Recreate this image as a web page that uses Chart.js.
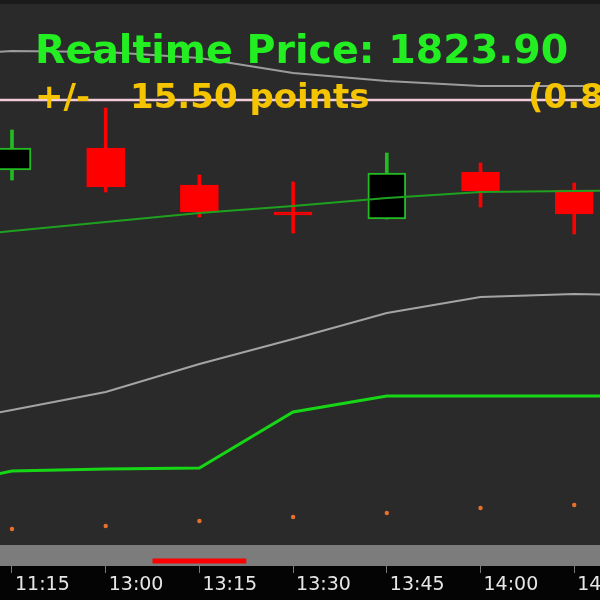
<!DOCTYPE html>
<html><head><meta charset="utf-8">
<script src="https://cdn.jsdelivr.net/npm/chart.js@4.4.1/dist/chart.umd.min.js"></script>
<style>html,body{margin:0;padding:0;background:#2a2a2a;overflow:hidden}#wrap{width:600px;height:600px}</style>
</head><body><div id="wrap"><canvas id="c" width="600" height="600"></canvas></div>
<script>
// ---- data ----
const timeLabels  = ['11:15','13:00','13:15','13:30','13:45','14:00','14:15'];
const candleOpen  = [1826.10,1827.20,1825.35,1823.85,1823.65,1826.00,1825.10];
const candleHigh  = [1828.10,1829.20,1825.85,1825.50,1826.95,1826.45,1825.45];
const candleLow   = [1825.60,1825.00,1823.75,1822.95,1823.65,1824.25,1822.90];
const candleClose = [1827.20,1825.25,1824.00,1823.85,1825.95,1825.05,1823.90];
// indicator lines, sampled at bar slots -1..7 (slots -1 and 7 lie just off-screen)
const lineSlots   = [-1,0,1,2,3,4,5,6,7];
const upperBand   = [1831.75,1832.05,1832.00,1831.70,1830.95,1830.55,1830.30,1830.30,1830.30];
const movingAvg   = [1822.60,1823.05,1823.50,1823.95,1824.30,1824.70,1825.00,1825.05,1825.10];
const lowerBand   = [1813.20,1814.10,1815.00,1816.40,1817.65,1818.95,1819.75,1819.90,1819.80];
const supportLine = [1810.10,1811.05,1811.15,1811.20,1814.00,1814.80,1814.80,1814.80,1814.80];
const sarDots     = [1808.15,1808.30,1808.55,1808.75,1808.95,1809.20,1809.35];
const referenceLevel  = 1829.60;
const activeSpanSlots = [1.5, 2.5];
const activeSpanLevel = 1806.55;
const realtimePrice   = 1823.90;
const priceChange     = 15.50;
const priceChangePct  = 0.85;
const yRange = [1806.30, 1834.60];
const xRange = [-0.128, 6.275];

// ---- build datasets ----
const slots = timeLabels.map((_, i) => i);
const isUp = slots.map(i => candleClose[i] > candleOpen[i]);
const UP = '#22bb22', DOWN = '#ff0000';

const wicks = slots.map(i => ({x: i, y: [candleLow[i], candleHigh[i]]}));
const bodies = slots.map(i => ({x: i, y: [candleOpen[i], candleClose[i]]}));
const pts = arr => lineSlots.map((s, k) => ({x: s, y: arr[k]}));

const backdrop = {
  id: 'backdrop',
  beforeDraw(chart) {
    const {ctx, chartArea: a, width, height} = chart;
    ctx.save();
    ctx.fillStyle = '#2a2a2a'; ctx.fillRect(0, 0, width, height);
    ctx.fillStyle = '#1b1b1b'; ctx.fillRect(0, 0, width, 4);
    ctx.fillStyle = '#7c7c7c'; ctx.fillRect(0, a.bottom - 21, width, 21);
    ctx.fillStyle = '#040404'; ctx.fillRect(0, a.bottom, width, height - a.bottom);
    ctx.restore();
  }
};
const headline = {
  id: 'headline',
  afterDatasetsDraw(chart) {
    const ctx = chart.ctx;
    ctx.save();
    ctx.textBaseline = 'alphabetic';
    ctx.textAlign = 'left';
    ctx.font = 'bold 39.5px "DejaVu Sans"';
    ctx.fillStyle = '#22ee22';
    ctx.fillText('Realtime Price: ' + realtimePrice.toFixed(2), 35, 63);
    ctx.font = 'bold 34px "DejaVu Sans"';
    ctx.fillStyle = '#f4c400';
    ctx.fillText('+/-', 35, 108);
    ctx.fillText(priceChange.toFixed(2) + ' points', 130, 108);
    ctx.fillText('(' + priceChangePct.toFixed(2) + '%)', 528, 108);
    ctx.restore();
  }
};

new Chart(document.getElementById('c'), {
  type: 'bar',
  data: {
    datasets: [
      {type: 'line', data: pts(upperBand), borderColor: '#9c9c9c', borderWidth: 2, pointRadius: 0, order: 6},
      {type: 'line', data: [{x: lineSlots[0], y: referenceLevel}, {x: lineSlots[lineSlots.length-1], y: referenceLevel}],
        borderColor: '#f2ccd6', borderWidth: 2.5, pointRadius: 0, order: 6},
      {type: 'line', data: pts(lowerBand), borderColor: '#a4a4a4', borderWidth: 2, pointRadius: 0, order: 6},
      {type: 'line', data: pts(supportLine), borderColor: '#16d616', borderWidth: 3, pointRadius: 0, order: 6},
      {type: 'line', data: slots.map(i => ({x: i, y: sarDots[i]})), showLine: false,
        pointRadius: 2.2, pointBackgroundColor: '#e8702c', pointBorderWidth: 0, order: 6},
      {type: 'line', data: activeSpanSlots.map(s => ({x: s, y: activeSpanLevel})),
        borderColor: '#ff0000', borderWidth: 5, borderCapStyle: 'butt', pointRadius: 0, order: 6},
      {data: wicks, grouped: false, barThickness: 3, borderWidth: 0,
        backgroundColor: slots.map(i => isUp[i] ? UP : DOWN), order: 3},
      {data: bodies, grouped: false, barThickness: 38, minBarLength: 3, borderSkipped: false,
        borderWidth: 2, borderColor: slots.map(i => isUp[i] ? UP : DOWN),
        backgroundColor: slots.map(i => isUp[i] ? '#000000' : DOWN), order: 2},
      {type: 'line', data: pts(movingAvg), borderColor: '#1fa01f', borderWidth: 2, pointRadius: 0, order: 1}
    ]
  },
  options: {
    responsive: false,
    animation: false,
    layout: {padding: 0, autoPadding: false},
    plugins: {legend: {display: false}, tooltip: {enabled: false}},
    elements: {line: {tension: 0}},
    scales: {
      x: {
        type: 'linear', min: xRange[0], max: xRange[1], offset: false,
        afterBuildTicks: s => { s.ticks = slots.map(v => ({value: v})); },
        afterFit: s => { s.paddingLeft = 0; s.paddingRight = 0; s.height = 34; },
        border: {display: false},
        grid: {offset: false, drawOnChartArea: false, drawTicks: true, tickLength: 7, color: '#7a7a7a', tickWidth: 1},
        ticks: {
          autoSkip: false, maxRotation: 0, minRotation: 0, align: 'start', labelOffset: 3, padding: 1,
          color: '#e6e6e6', font: {family: '"DejaVu Sans"', size: 19},
          callback: v => timeLabels[v] ?? ''
        }
      },
      y: {type: 'linear', min: yRange[0], max: yRange[1], display: false}
    }
  },
  plugins: [backdrop, headline]
});
</script>
</body></html>
